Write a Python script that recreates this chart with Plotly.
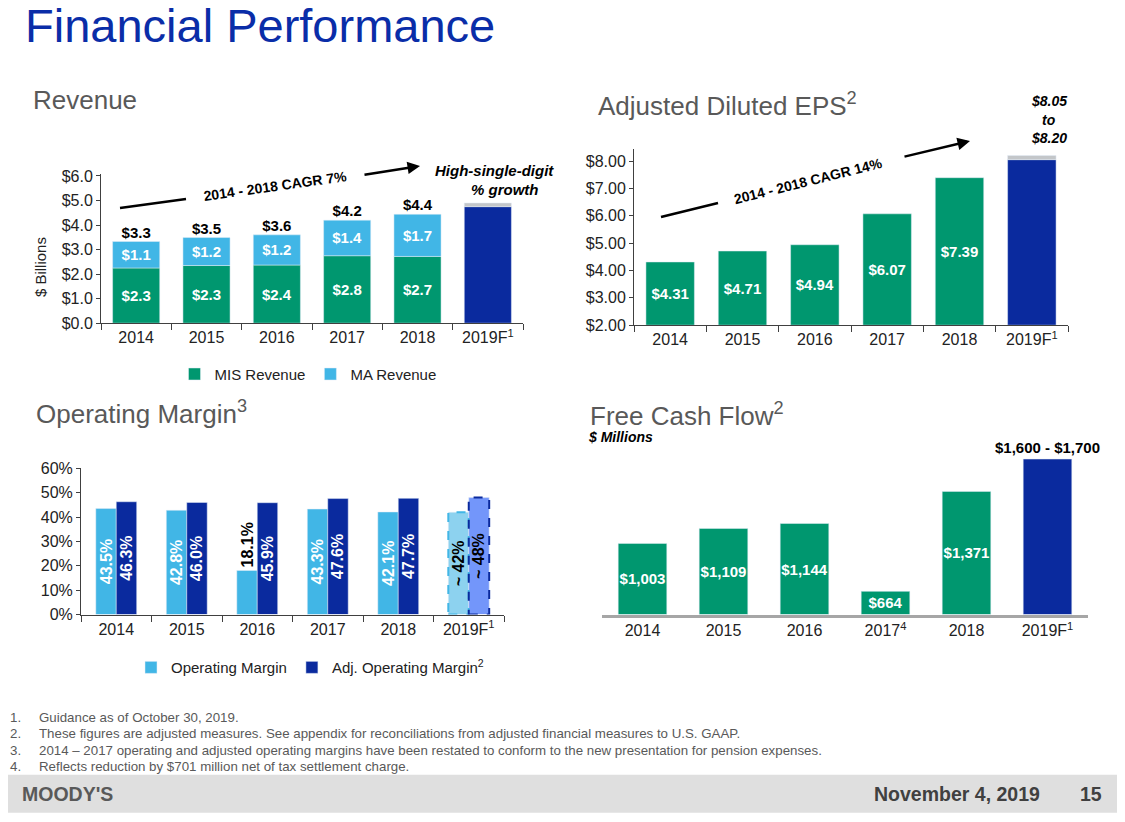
import plotly.graph_objects as go

W, H = 1125, 822

# ---- data ----
years = ['2014', '2015', '2016', '2017', '2018', '2019F']
hist_years = years[:5]
tick_text = ['2014', '2015', '2016', '2017', '2018', '2019F<sup>1</sup>']
fcf_tick_text = ['2014', '2015', '2016', '2017<sup>4</sup>', '2018', '2019F<sup>1</sup>']

mis_revenue = [2.25, 2.35, 2.37, 2.75, 2.72]
ma_revenue = [1.08, 1.14, 1.23, 1.45, 1.72]
mis_labels = ['$2.3', '$2.3', '$2.4', '$2.8', '$2.7']
ma_labels = ['$1.1', '$1.2', '$1.2', '$1.4', '$1.7']
total_labels = ['$3.3', '$3.5', '$3.6', '$4.2', '$4.4']
revenue_2019_low, revenue_2019_high = 4.75, 4.90

eps = [4.31, 4.71, 4.94, 6.07, 7.39]
eps_labels = ['$4.31', '$4.71', '$4.94', '$6.07', '$7.39']
eps_2019_low, eps_2019_high = 8.05, 8.20

op_margin = [43.5, 42.8, 18.1, 43.3, 42.1, 42]
adj_op_margin = [46.3, 46.0, 45.9, 47.6, 47.7, 48]
op_labels = ['43.5%', '42.8%', '18.1%', '43.3%', '42.1%', '~ 42%']
adj_op_labels = ['46.3%', '46.0%', '45.9%', '47.6%', '47.7%', '~ 48%']

fcf = [1003, 1109, 1144, 664, 1371, 1600]
fcf_labels = ['$1,003', '$1,109', '$1,144', '$664', '$1,371', '$1,600 - $1,700']

# value axes that do not start at zero
EPS_FLOOR = 2.0
FCF_FLOOR = 500

# ---- colours ----
GREEN = '#00976F'
LIGHT_BLUE = '#41B6E6'
NAVY = '#0A2A9E'
GREY_CAP = '#C3C6C9'
TEXT_GREY = '#595959'
FONT = 'Liberation Sans, Arial, sans-serif'

# the page draws the figure a little offset / squeezed; map slide pixels to paper
OX, OY, DRAWN_H = 8, 17.2, 804


def px(x):
    return (x - OX) / W


def py(y):
    return 1 - (y - OY) / DRAWN_H


fig = go.Figure()

bar_text = dict(color='white', size=15, weight='bold')

# ---- Revenue (x / y) ----
fig.add_trace(go.Bar(
    x=hist_years, y=mis_revenue, name='MIS Revenue', marker_color=GREEN,
    width=0.67, text=mis_labels, textposition='inside', insidetextanchor='middle',
    textangle=0, textfont=bar_text, legend='legend', xaxis='x', yaxis='y'))
fig.add_trace(go.Bar(
    x=hist_years, y=ma_revenue, base=mis_revenue, name='MA Revenue', marker_color=LIGHT_BLUE,
    width=0.67, text=ma_labels, textposition='inside', insidetextanchor='middle',
    textangle=0, textfont=bar_text, legend='legend', xaxis='x', yaxis='y'))
fig.add_trace(go.Bar(
    x=['2019F'], y=[revenue_2019_low], marker_color=NAVY, width=0.67,
    showlegend=False, xaxis='x', yaxis='y'))
fig.add_trace(go.Bar(
    x=['2019F'], y=[revenue_2019_high - revenue_2019_low], base=[revenue_2019_low],
    marker_color=GREY_CAP, width=0.67, showlegend=False, xaxis='x', yaxis='y'))
fig.add_trace(go.Scatter(
    x=hist_years, y=[m + a for m, a in zip(mis_revenue, ma_revenue)], mode='text',
    text=total_labels, textposition='top center', cliponaxis=False,
    textfont=dict(color='black', size=15, weight='bold'),
    showlegend=False, xaxis='x', yaxis='y'))

# ---- Adjusted diluted EPS (x2 / y2) ----
fig.add_trace(go.Bar(
    x=hist_years, y=[v - EPS_FLOOR for v in eps], base=EPS_FLOOR, marker_color=GREEN,
    width=0.67, text=eps_labels, textposition='inside', insidetextanchor='middle',
    textangle=0, textfont=bar_text, showlegend=False, xaxis='x2', yaxis='y2'))
fig.add_trace(go.Bar(
    x=['2019F'], y=[eps_2019_low - EPS_FLOOR], base=EPS_FLOOR, marker_color=NAVY,
    width=0.67, showlegend=False, xaxis='x2', yaxis='y2'))
fig.add_trace(go.Bar(
    x=['2019F'], y=[eps_2019_high - eps_2019_low], base=[eps_2019_low], marker_color=GREY_CAP,
    width=0.67, showlegend=False, xaxis='x2', yaxis='y2'))

# ---- Operating margin (x3 / y3) ----
fig.add_trace(go.Bar(
    x=years, y=op_margin, name='Operating Margin', width=0.29, offset=-0.29,
    marker_color=[LIGHT_BLUE] * 5 + ['#8DD2EF'],
    text=op_labels, textangle=-90,
    textposition=['inside', 'inside', 'outside', 'inside', 'inside', 'inside'],
    insidetextanchor='middle', constraintext='none', cliponaxis=False,
    textfont=dict(color=['white', 'white', 'black', 'white', 'white', 'black'], size=16, weight='bold'),
    legend='legend2', xaxis='x3', yaxis='y3'))
fig.add_trace(go.Bar(
    x=years, y=adj_op_margin, name='Adj. Operating Margin<sup>2</sup>', width=0.29, offset=0,
    marker_color=[NAVY] * 5 + ['#7396FA'],
    text=adj_op_labels, textangle=-90, textposition='inside',
    insidetextanchor='middle', constraintext='none',
    textfont=dict(color=['white'] * 5 + ['black'], size=16, weight='bold'),
    legend='legend2', xaxis='x3', yaxis='y3'))

# ---- Free cash flow (x4 / y4) ----
fig.add_trace(go.Bar(
    x=years, y=[v - FCF_FLOOR for v in fcf], base=FCF_FLOOR,
    marker_color=[GREEN] * 5 + [NAVY], width=0.6,
    text=fcf_labels, textposition=['inside'] * 5 + ['outside'], insidetextanchor='middle',
    textangle=0, constraintext='none', cliponaxis=False,
    textfont=dict(color=['white'] * 5 + ['black'], size=15, weight='bold'),
    showlegend=False, xaxis='x4', yaxis='y4'))

# ---- axes ----
xcommon = dict(type='category', categoryorder='array', categoryarray=years,
               tickvals=years, showline=True, linecolor='#404040', linewidth=1,
               ticks='outside', tickson='boundaries', ticklen=6, tickcolor='#404040',
               showgrid=False, tickfont=dict(size=16, color='#222'))
ycommon = dict(showline=True, linecolor='#404040', linewidth=1, ticks='outside',
               ticklen=4, tickcolor='#404040', showgrid=False, zeroline=False,
               tickfont=dict(size=16, color='#222'))

legend_style = dict(orientation='h', xanchor='center', yanchor='middle',
                    font=dict(size=15, color='#222'), itemwidth=30, bgcolor='rgba(0,0,0,0)')

fig.update_layout(
    xaxis=dict(xcommon, domain=[px(101), px(523)], anchor='y', ticktext=tick_text),
    yaxis=dict(ycommon, domain=[py(324), py(175)], anchor='x', range=[0, 6.08],
               dtick=1, tickprefix='$', tickformat='.1f'),
    xaxis2=dict(xcommon, domain=[px(634), px(1068)], anchor='y2', ticktext=tick_text),
    yaxis2=dict(ycommon, domain=[py(326), py(150)], anchor='x2', range=[2, 8.44],
                dtick=1, tickprefix='$', tickformat='.2f'),
    xaxis3=dict(xcommon, domain=[px(81), px(504)], anchor='y3', ticktext=tick_text),
    yaxis3=dict(ycommon, domain=[py(615), py(469)], anchor='x3', range=[0, 60],
                dtick=10, ticksuffix='%'),
    xaxis4=dict(xcommon, domain=[px(602), px(1088)], anchor='y4', ticktext=fcf_tick_text,
                linecolor='#A6A6A6', linewidth=2.5, ticks=''),
    yaxis4=dict(domain=[py(615), py(445)], anchor='x4', range=[FCF_FLOOR, 1704], visible=False),
    barmode='overlay',
    legend=dict(legend_style, x=px(308), y=py(375)),
    legend2=dict(legend_style, x=px(310), y=py(668)),
    width=W, height=H,
    margin=dict(l=0, r=0, t=0, b=0),
    paper_bgcolor='white', plot_bgcolor='white',
    font=dict(family=FONT, color='#222'),
)

shapes = [
    # footer band
    dict(type='rect', xref='paper', yref='paper', x0=-0.05, x1=1.05, y0=py(813), y1=py(775),
         fillcolor='#DFDFDF', line_width=0, layer='below'),
    # CAGR tails
    dict(type='line', xref='paper', yref='paper', x0=px(120), y0=py(209), x1=px(186), y1=py(200),
         line=dict(color='black', width=2.5)),
    dict(type='line', xref='paper', yref='paper', x0=px(661), y0=py(218), x1=px(718), y1=py(204),
         line=dict(color='black', width=2.5)),
    # dashed outlines of the 2019F margin guidance bars
    dict(type='rect', xref='x3', yref='y3', x0='2019F', x1='2019F', x0shift=-0.29, x1shift=0,
         y0=0, y1=op_margin[-1], line=dict(color=LIGHT_BLUE, width=2, dash='dash')),
    dict(type='rect', xref='x3', yref='y3', x0='2019F', x1='2019F', x0shift=0, x1shift=0.29,
         y0=0, y1=adj_op_margin[-1], line=dict(color=NAVY, width=2, dash='dash')),
]
fig.update_layout(shapes=shapes)

annotations = []


def note(x, y, text, size=14, color='#222', anchor='left', **kw):
    annotations.append(dict(xref='paper', yref='paper', x=px(x), y=py(y), text=text,
                            showarrow=False, xanchor=anchor, yanchor='middle',
                            font=dict(size=size, color=color, family=kw.pop('family', FONT)), **kw))


note(23, 27, 'Financial Performance', size=47, color='#0A2DA8')
note(31, 101, 'Revenue', size=26, color=TEXT_GREY)
note(596, 106, 'Adjusted Diluted EPS<sup>2</sup>', size=26, color=TEXT_GREY)
note(34, 413, 'Operating Margin<sup>3</sup>', size=26, color=TEXT_GREY)
note(588, 415, 'Free Cash Flow<sup>2</sup>', size=26, color=TEXT_GREY)
note(586, 438, '<b><i>$ Millions</i></b>', size=14, color='black')
note(40, 268, '$ Billions', size=15, anchor='center', textangle=-90)

note(275, 187, '<b>2014 - 2018 CAGR 7%</b>', size=14, color='black', anchor='center', textangle=-8)
note(494, 172, '<b><i>High-single-digit</i></b>', size=15, color='black', anchor='center')
note(505, 190, '<b><i>% growth</i></b>', size=15, color='black', anchor='center')
note(808, 182, '<b>2014 - 2018 CAGR 14%</b>', size=14, color='black', anchor='center', textangle=-14)
note(1049, 102, '<b><i>$8.05</i></b>', size=14, color='black', anchor='center')
note(1049, 121, '<b><i>to</i></b>', size=14, color='black', anchor='center')
note(1049, 139, '<b><i>$8.20</i></b>', size=14, color='black', anchor='center')

# CAGR arrow heads
for tip, tail in [((420, 167), (363, 176)), ((970, 142), (903, 158))]:
    annotations.append(dict(xref='paper', yref='paper', x=px(tip[0]), y=py(tip[1]),
                            ax=tail[0] - tip[0], ay=tail[1] - tip[1], text='',
                            showarrow=True, arrowhead=2, arrowsize=1, arrowwidth=2.5,
                            arrowcolor='black'))

footnotes = [
    'Guidance as of October 30, 2019.',
    'These figures are adjusted measures. See appendix for reconciliations from adjusted financial measures to U.S. GAAP.',
    '2014 \u2013 2017 operating and adjusted operating margins have been restated to conform to the new presentation for pension expenses.',
    'Reflects reduction by $701 million net of tax settlement charge.',
]
for i, line in enumerate(footnotes):
    y = 718 + i * 16.3
    note(8, y, f'{i + 1}.', size=13.3, color=TEXT_GREY)
    note(37, y, line, size=13.3, color=TEXT_GREY)

note(20, 794, "<b>MOODY'S</b>", size=19.5, color=TEXT_GREY)
note(1042, 794, '<b>November 4, 2019</b>', size=19.5, color='#404040', anchor='right')
note(1104, 794, '<b>15</b>', size=19.5, color='#404040', anchor='right')

fig.update_layout(annotations=annotations)

fig.write_html('out.html')
